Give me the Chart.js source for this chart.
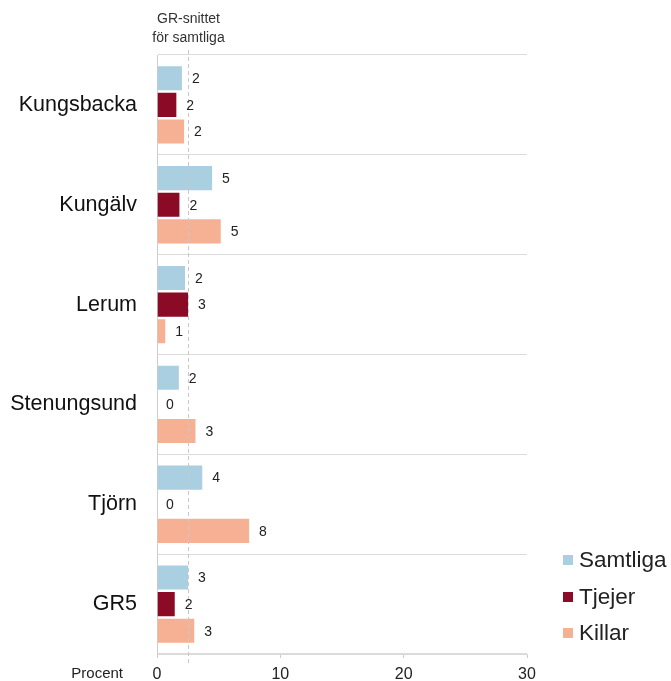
<!DOCTYPE html>
<html>
<head>
<meta charset="utf-8">
<script src="https://cdn.jsdelivr.net/npm/chart.js@4"></script>
<style>
  html, body { margin: 0; padding: 0; background: #fff; }
  #wrap { width: 671px; height: 681px; }
</style>
</head>
<body>
<div id="wrap"><canvas id="chart" width="671" height="681"></canvas></div>
<script>
const categories = ['Kungsbacka', 'Kungälv', 'Lerum', 'Stenungsund', 'Tjörn', 'GR5'];
const samtliga = [2.1, 4.55, 2.35, 1.85, 3.75, 2.6];
const tjejer = [1.65, 1.9, 2.6, 0, 0, 1.52];
const killar = [2.28, 5.25, 0.75, 3.2, 7.55, 3.1];
const grAverage = 2.55;
const xTicks = [0, 10, 20, 30];

const FONT = '"Liberation Sans", Arial, sans-serif';

const overlay = {
  id: 'overlay',
  afterDatasetsDraw(chart) {
    const ctx = chart.ctx;
    const x = chart.scales.x;
    const area = chart.chartArea;
    ctx.save();

    // GR average dashed line
    const ax = Math.round(x.getPixelForValue(grAverage)) + 0.5;
    ctx.strokeStyle = '#c8c8c8';
    ctx.lineWidth = 1;
    ctx.setLineDash([4, 3]);
    ctx.beginPath();
    ctx.moveTo(ax, area.top - 5);
    ctx.lineTo(ax, area.bottom + 9);
    ctx.stroke();
    ctx.setLineDash([]);

    ctx.fillStyle = '#333';
    ctx.font = '14px ' + FONT;
    ctx.textAlign = 'center';
    ctx.textBaseline = 'middle';
    ctx.fillText('GR-snittet', ax, 19);
    ctx.fillText('för samtliga', ax, 38);

    // value labels
    ctx.font = '14px ' + FONT;
    ctx.textAlign = 'left';
    ctx.fillStyle = '#222';
    chart.data.datasets.forEach((ds, i) => {
      chart.getDatasetMeta(i).data.forEach((bar, j) => {
        ctx.fillText(String(Math.round(ds.data[j])), bar.x + 9, bar.y + 1);
      });
    });

    // axis title
    ctx.font = '15px ' + FONT;
    ctx.textAlign = 'right';
    ctx.fillText('Procent', 123, 674);

    // legend
    ctx.font = '22.5px ' + FONT;
    ctx.textAlign = 'left';
    const ys = [560, 597, 633];
    chart.data.datasets.forEach((ds, i) => {
      ctx.fillStyle = ds.backgroundColor;
      ctx.fillRect(563, ys[i] - 5, 10, 10);
      ctx.fillStyle = '#222';
      ctx.fillText(ds.label, 579, ys[i] + 1);
    });
    ctx.restore();
  }
};

new Chart(document.getElementById('chart'), {
  type: 'bar',
  data: {
    labels: categories,
    datasets: [
      { label: 'Samtliga', data: samtliga, backgroundColor: '#a9cfe0' },
      { label: 'Tjejer', data: tjejer, backgroundColor: '#8b0a25' },
      { label: 'Killar', data: killar, backgroundColor: '#f6b093' }
    ]
  },
  options: {
    indexAxis: 'y',
    responsive: false,
    animation: false,
    layout: { padding: { top: 55, right: 144, left: 0, bottom: 0 } },
    datasets: {
      bar: {
        categoryPercentage: 0.8,
        barPercentage: 0.98,
        borderWidth: 1,
        borderColor: '#ffffff',
        borderSkipped: 'start'
      }
    },
    plugins: {
      legend: { display: false },
      tooltip: { enabled: false }
    },
    scales: {
      x: {
        min: 0,
        max: 30,
        afterBuildTicks: (s) => { s.ticks = xTicks.map(v => ({ value: v })); },
        afterFit: (s) => { s.height = 27; s.paddingLeft = 0; s.paddingRight = 0; },
        grid: { drawOnChartArea: false, drawTicks: true, tickLength: 4, color: '#cccccc' },
        border: { display: true, color: '#d9d9d9' },
        ticks: { color: '#222', padding: 7, font: { family: FONT, size: 16 }, maxRotation: 0 }
      },
      y: {
        afterFit: (s) => { s.width = 157; s.paddingTop = 0; s.paddingBottom = 0; },
        grid: { offset: true, drawTicks: false, color: '#dcdcdc' },
        border: { display: true, color: '#cccccc' },
        ticks: { color: '#111', padding: 20, font: { family: FONT, size: 21.5 } }
      }
    }
  },
  plugins: [overlay]
});
</script>
</body>
</html>
